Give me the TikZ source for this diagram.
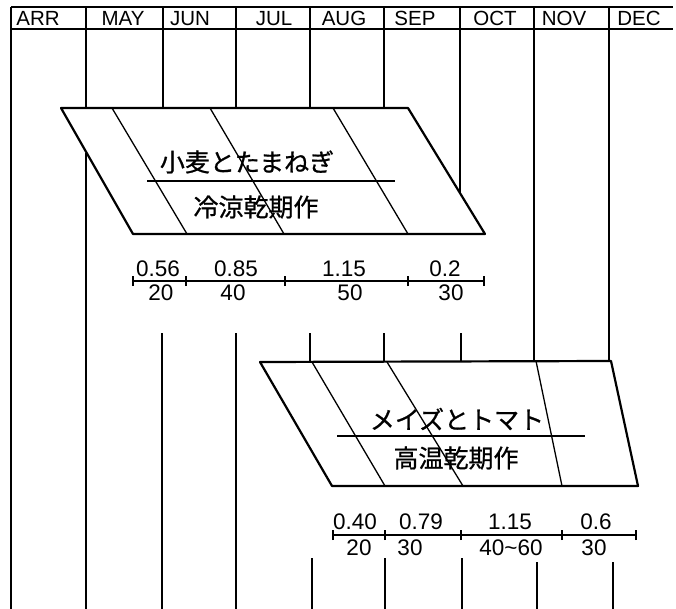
\documentclass[tikz,border=0pt]{standalone}
\usepackage{fontspec}
\setmainfont{Liberation Sans}
\newfontfamily\jp{Noto Sans CJK JP}[FakeBold=0.8]
\begin{document}
\begin{tikzpicture}[x=1pt,y=-1pt,
  grid/.style={line width=1.3pt},
  edge/.style={line width=2.2pt, line join=round},
  diag/.style={line width=1.3pt},
  mon/.style={font=\fontsize{20.5}{20.5}\selectfont, inner sep=0pt, anchor=base},
  num/.style={font=\fontsize{22.5}{22.5}\selectfont, inner sep=0pt},
  jtxt/.style={font=\jp\fontsize{25}{25}\selectfont, inner sep=0pt},
  tick/.style={line width=1.3pt}
]
\useasboundingbox (0,0) rectangle (676,609);
% ---------- header ----------
\coordinate (hl) at (11,7);
\coordinate (hr) at (673,7);
\coordinate (hbl) at (11,29);
\coordinate (hbr) at (673,29);
\draw[grid] (hl) -- (hr);
\draw[grid] (hbl) -- (hbr);
\node[mon] (mARR) at (38,25.5) {ARR};
\node[mon] (mMAY) at (123,25.5) {MAY};
\node[mon] (mJUN) at (190,25.5) {JUN};
\node[mon] (mJUL) at (274,25.5) {JUL};
\node[mon] (mAUG) at (344,25.5) {AUG};
\node[mon] (mSEP) at (415,25.5) {SEP};
\node[mon] (mOCT) at (495,25.5) {OCT};
\node[mon] (mNOV) at (564,25.5) {NOV};
\node[mon] (mDEC) at (639,25.5) {DEC};
% ---------- parallelogram 1 ----------
\coordinate (p1tl) at (61,108);
\coordinate (p1tr) at (408,108);
\coordinate (p1bl) at (133,234);
\coordinate (p1br) at (485,234);
\draw[edge] (p1tl) -- (p1tr) -- (p1br) -- (p1bl) -- cycle;
\coordinate (d1at) at (112,108); \coordinate (d1ab) at (187,234);
\coordinate (d1bt) at (210,108); \coordinate (d1bb) at (284,234);
\coordinate (d1ct) at (333,108); \coordinate (d1cb) at (408,234);
\draw[diag] (d1at) -- (d1ab);
\draw[diag] (d1bt) -- (d1bb);
\draw[diag] (d1ct) -- (d1cb);
\coordinate (m1l) at (147,181); \coordinate (m1r) at (395,181);
\draw[diag] (m1l) -- (m1r);
\node[jtxt] (t1a) at (247,162) {小麦とたまねぎ};
\node[jtxt] (t1b) at (256,207) {冷涼乾期作};
% ---------- grid verticals (upper) ----------
\coordinate (v0t) at (11,7);   \coordinate (v0b) at (11,609);
\coordinate (v1t) at (86,7);   \coordinate (v1m) at (86,108);
\coordinate (v1e) at (86,153); \coordinate (v1b) at (86,609);
\coordinate (v2t) at (163,7);  \coordinate (v2b) at (163,108);
\coordinate (v3t) at (236,7);  \coordinate (v3b) at (236,108);
\coordinate (v4t) at (310,7);  \coordinate (v4b) at (310,108);
\coordinate (v5t) at (384,7);  \coordinate (v5b) at (384,108);
\coordinate (v6t) at (460,7);  \coordinate (v6b) at (460,193);
\coordinate (v7t) at (534,7);  \coordinate (v7b) at (534,361);
\coordinate (v8t) at (609,7);  \coordinate (v8b) at (609,361);
\draw[grid] (v0t) -- (v0b);
\draw[grid] (v1t) -- (v1m);
\draw[grid] (v1e) -- (v1b);
\draw[grid] (v2t) -- (v2b);
\draw[grid] (v3t) -- (v3b);
\draw[grid] (v4t) -- (v4b);
\draw[grid] (v5t) -- (v5b);
\draw[grid] (v6t) -- (v6b);
\draw[grid] (v7t) -- (v7b);
\draw[grid] (v8t) -- (v8b);
% ---------- scale row 1 ----------
\coordinate (s1a) at (133,281);
\coordinate (s1b) at (186,281);
\coordinate (s1c) at (285,281);
\coordinate (s1d) at (408,281);
\coordinate (s1e) at (484,281);
\draw[grid] (s1a) -- (s1e);
\foreach \c in {s1a,s1b,s1c,s1d,s1e}
  \draw[tick] ([yshift=-5pt]\c) -- ([yshift=5pt]\c);
\node[num] (u1a) at (158,269) {0.56};
\node[num] (u1b) at (236,269) {0.85};
\node[num] (u1c) at (344,269) {1.15};
\node[num] (u1d) at (445,269) {0.2};
\node[num] (l1a) at (161,293) {20};
\node[num] (l1b) at (233,293) {40};
\node[num] (l1c) at (350,293) {50};
\node[num] (l1d) at (451,293) {30};
% ---------- middle verticals ----------
\coordinate (w2t) at (162,333); \coordinate (w2b) at (162,609);
\coordinate (w3t) at (236,333); \coordinate (w3b) at (236,609);
\coordinate (w4t) at (310,333); \coordinate (w4b) at (310,361);
\coordinate (w5t) at (384,333); \coordinate (w5b) at (384,361);
\coordinate (w6t) at (461,333); \coordinate (w6b) at (461,361);
\draw[grid] (w2t) -- (w2b);
\draw[grid] (w3t) -- (w3b);
\draw[grid] (w4t) -- (w4b);
\draw[grid] (w5t) -- (w5b);
\draw[grid] (w6t) -- (w6b);
% ---------- parallelogram 2 ----------
\coordinate (p2tl) at (260,362);
\coordinate (p2tr) at (611,361);
\coordinate (p2bl) at (332,486);
\coordinate (p2br) at (638,486);
\draw[edge] (p2tl) -- (p2tr) -- (p2br) -- (p2bl) -- cycle;
\coordinate (d2at) at (312,362); \coordinate (d2ab) at (385,486);
\coordinate (d2bt) at (387,362); \coordinate (d2bb) at (463,486);
\coordinate (d2ct) at (536,361); \coordinate (d2cb) at (562,486);
\draw[diag] (d2at) -- (d2ab);
\draw[diag] (d2bt) -- (d2bb);
\draw[diag] (d2ct) -- (d2cb);
\coordinate (m2l) at (337,436); \coordinate (m2r) at (585,436);
\draw[diag] (m2l) -- (m2r);
\node[jtxt] (t2a) at (457,419) {メイズとトマト};
\node[jtxt] (t2b) at (456,458) {高温乾期作};
% ---------- scale row 2 ----------
\coordinate (s2a) at (333,535);
\coordinate (s2b) at (385,535);
\coordinate (s2c) at (461,535);
\coordinate (s2d) at (562,535);
\coordinate (s2e) at (636,535);
\draw[grid] (s2a) -- (s2e);
\foreach \c in {s2a,s2b,s2c,s2d,s2e}
  \draw[tick] ([yshift=-5pt]\c) -- ([yshift=5pt]\c);
\node[num] (u2a) at (355,522) {0.40};
\node[num] (u2b) at (421,522) {0.79};
\node[num] (u2c) at (510,522) {1.15};
\node[num] (u2d) at (596,522) {0.6};
\node[num] (l2a) at (359,548) {20};
\node[num] (l2b) at (410,548) {30};
\node[num] (l2c) at (511,548) {40\textasciitilde 60};
\node[num] (l2d) at (594,548) {30};
% ---------- bottom verticals ----------
\coordinate (x1t) at (312,558); \coordinate (x1b) at (312,609);
\coordinate (x2t) at (385,558); \coordinate (x2b) at (385,609);
\coordinate (x3t) at (462,558); \coordinate (x3b) at (462,609);
\coordinate (x4t) at (537,562); \coordinate (x4b) at (537,609);
\coordinate (x5t) at (613,562); \coordinate (x5b) at (613,609);
\draw[grid] (x1t) -- (x1b);
\draw[grid] (x2t) -- (x2b);
\draw[grid] (x3t) -- (x3b);
\draw[grid] (x4t) -- (x4b);
\draw[grid] (x5t) -- (x5b);
\end{tikzpicture}
\end{document}
